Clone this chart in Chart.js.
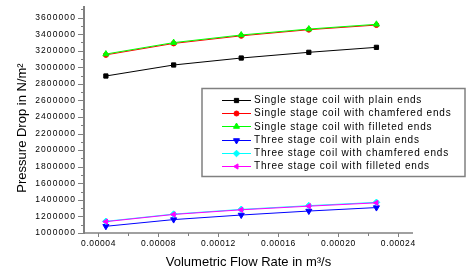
<!DOCTYPE html>
<html><head><meta charset="utf-8">
<script src="https://cdn.jsdelivr.net/npm/chart.js@4/dist/chart.umd.min.js"></script>
<style>html,body{margin:0;padding:0;background:#fff;overflow:hidden}canvas{display:block}</style>
</head><body>
<canvas id="c" width="466" height="270"></canvas>
<script>
// ---- data ----
const flowRates = [0.0000451, 0.0000903, 0.0001354, 0.0001805, 0.0002256];
const seriesNames = [
  'Single stage coil with plain ends',
  'Single stage coil with chamfered ends',
  'Single stage coil with filleted ends',
  'Three stage coil with plain ends',
  'Three stage coil with chamfered ends',
  'Three stage coil with filleted ends'
];
const singlePlain      = [2895000, 3028000, 3112000, 3181000, 3241000];
const singleChamfered  = [3150000, 3288000, 3380000, 3454000, 3510000];
const singleFilleted   = [3160000, 3298000, 3390000, 3462000, 3519000];
const threePlain       = [1081000, 1162000, 1217000, 1265000, 1307000];
const threeChamfered   = [1141000, 1228000, 1285000, 1330000, 1370000];
const threeFilleted    = [1137000, 1224000, 1280000, 1324000, 1364000];
const yTickValues = [1000000,1200000,1400000,1600000,1800000,2000000,2200000,2400000,2600000,2800000,3000000,3200000,3400000,3600000];
const yTickLabels = ['1000000','1200000','1400000','1600000','1800000','2000000','2200000','2400000','2600000','2800000','3000000','3200000','3400000','3600000'];
const xTickValues = [0.00004,0.00008,0.00012,0.00016,0.00020,0.00024];
const xTickLabels = ['0.00004','0.00008','0.00012','0.00016','0.00020','0.00024'];
const xTitle = 'Volumetric Flow Rate in m\u00B3/s';
const yTitle = 'Pressure Drop in N/m\u00B2';

// ---- styles ----
const seriesValues = [singlePlain, singleChamfered, singleFilleted, threePlain, threeChamfered, threeFilleted];
const colors = ['#000000','#ff0000','#00ff00','#0000ff','#00ffff','#ff00ff'];
const markers = [
  {style:'rect', rot:0, r:3},
  {style:'circle', rot:0, r:2.5},
  {style:'triangle', rot:0, r:3.5},
  {style:'triangle', rot:180, r:3.5},
  {style:'rectRot', rot:0, r:3.3},
  {style:'triangle', rot:-90, r:3}
];
const AXIS = '#808080';
const FONT = '"Liberation Sans", Arial, sans-serif';

const datasets = seriesValues.map((vals, i) => ({
  label: seriesNames[i],
  data: vals.map((v, j) => ({x: flowRates[j], y: v})),
  borderColor: colors[i],
  backgroundColor: colors[i],
  borderWidth: 1,
  pointStyle: markers[i].style,
  rotation: markers[i].rot,
  pointRadius: markers[i].r,
  pointBorderWidth: 1,
  pointBackgroundColor: colors[i],
  pointBorderColor: colors[i],
  order: 5 - i,
  tension: 0
}));

function drawMarker(ctx, m, x, y, color) {
  ctx.fillStyle = color; ctx.strokeStyle = color; ctx.lineWidth = 1;
  if (Chart.helpers && Chart.helpers.drawPoint) {
    Chart.helpers.drawPoint(ctx, {pointStyle: m.style, rotation: m.rot, radius: m.r, borderWidth: 1}, x, y);
  }
}

const decor = {
  id: 'decor',
  afterDraw(chart) {
    const ctx = chart.ctx, xs = chart.scales.x, ys = chart.scales.y, ca = chart.chartArea;
    ctx.save();
    // axis lines
    ctx.strokeStyle = AXIS;
    ctx.lineWidth = 2;
    ctx.beginPath(); ctx.moveTo(ca.left, ca.top); ctx.lineTo(ca.left, ca.bottom + 1); ctx.stroke();
    ctx.lineWidth = 1.5;
    ctx.beginPath(); ctx.moveTo(ca.left, ca.bottom); ctx.lineTo(ca.right, ca.bottom); ctx.stroke();
    // y ticks
    ctx.lineWidth = 1;
    for (let v = 1000000; v <= 3700000; v += 100000) {
      const y = Math.round(ys.getPixelForValue(v)) + 0.5;
      const len = (v % 200000 === 0) ? 6 : 3;
      ctx.beginPath(); ctx.moveTo(ca.left - len, y); ctx.lineTo(ca.left, y); ctx.stroke();
    }
    // x ticks
    for (let k = 2; k <= 12; k++) {
      const v = k * 0.00002;
      const x = Math.round(xs.getPixelForValue(v)) + 0.5;
      const len = (k % 2 === 0) ? 4 : 3;
      ctx.beginPath(); ctx.moveTo(x, ca.bottom); ctx.lineTo(x, ca.bottom + len); ctx.stroke();
    }
    // tick labels
    ctx.fillStyle = '#000';
    ctx.font = '8.5px ' + FONT;
    ctx.letterSpacing = '1.1px';
    ctx.textAlign = 'right'; ctx.textBaseline = 'middle';
    yTickValues.forEach((v, i) => ctx.fillText(yTickLabels[i], ca.left - 8, ys.getPixelForValue(v)));
    ctx.letterSpacing = '0.6px';
    ctx.textAlign = 'center';
    xTickValues.forEach((v, i) => ctx.fillText(xTickLabels[i], xs.getPixelForValue(v) + 0.3, 243.5));
    // axis titles
    ctx.letterSpacing = '0px';
    ctx.font = '13px ' + FONT;
    ctx.fillText(xTitle, (ca.left + ca.right) / 2, 262.5);
    ctx.save();
    ctx.translate(22.5, 128);
    ctx.rotate(-Math.PI / 2);
    ctx.fillText(yTitle, 0, 0);
    ctx.restore();
    // legend
    ctx.strokeStyle = AXIS; ctx.lineWidth = 1.5;
    ctx.strokeRect(202, 88.5, 263, 88);
    ctx.font = '10px ' + FONT;
    ctx.letterSpacing = '0.8px';
    ctx.textAlign = 'left'; ctx.textBaseline = 'middle';
    seriesNames.forEach((name, i) => {
      const y = 100 + i * 13.2;
      ctx.strokeStyle = colors[i]; ctx.lineWidth = 1;
      ctx.beginPath(); ctx.moveTo(222, Math.round(y) + 0.5); ctx.lineTo(251, Math.round(y) + 0.5); ctx.stroke();
      drawMarker(ctx, markers[i], 236.5, Math.round(y) + 0.5, colors[i]);
      ctx.fillStyle = '#000';
      ctx.fillText(name, 254, y + 0.5);
    });
    ctx.restore();
  }
};

new Chart(document.getElementById('c'), {
  type: 'line',
  data: { datasets },
  options: {
    responsive: false,
    animation: false,
    devicePixelRatio: 1,
    layout: { padding: { top: 6, right: 53, left: 0, bottom: 0 } },
    plugins: { legend: { display: false }, tooltip: { enabled: false } },
    scales: {
      x: {
        type: 'linear', min: 0.0000305, max: 0.00025,
        grid: { display: false }, border: { display: false },
        ticks: { display: false },
        afterFit(s) { s.height = 37; }
      },
      y: {
        type: 'linear', min: 1000000, max: 3740000,
        grid: { display: false }, border: { display: false },
        ticks: { display: false },
        afterFit(s) { s.width = 84; }
      }
    }
  },
  plugins: [decor]
});
</script>
</body></html>
